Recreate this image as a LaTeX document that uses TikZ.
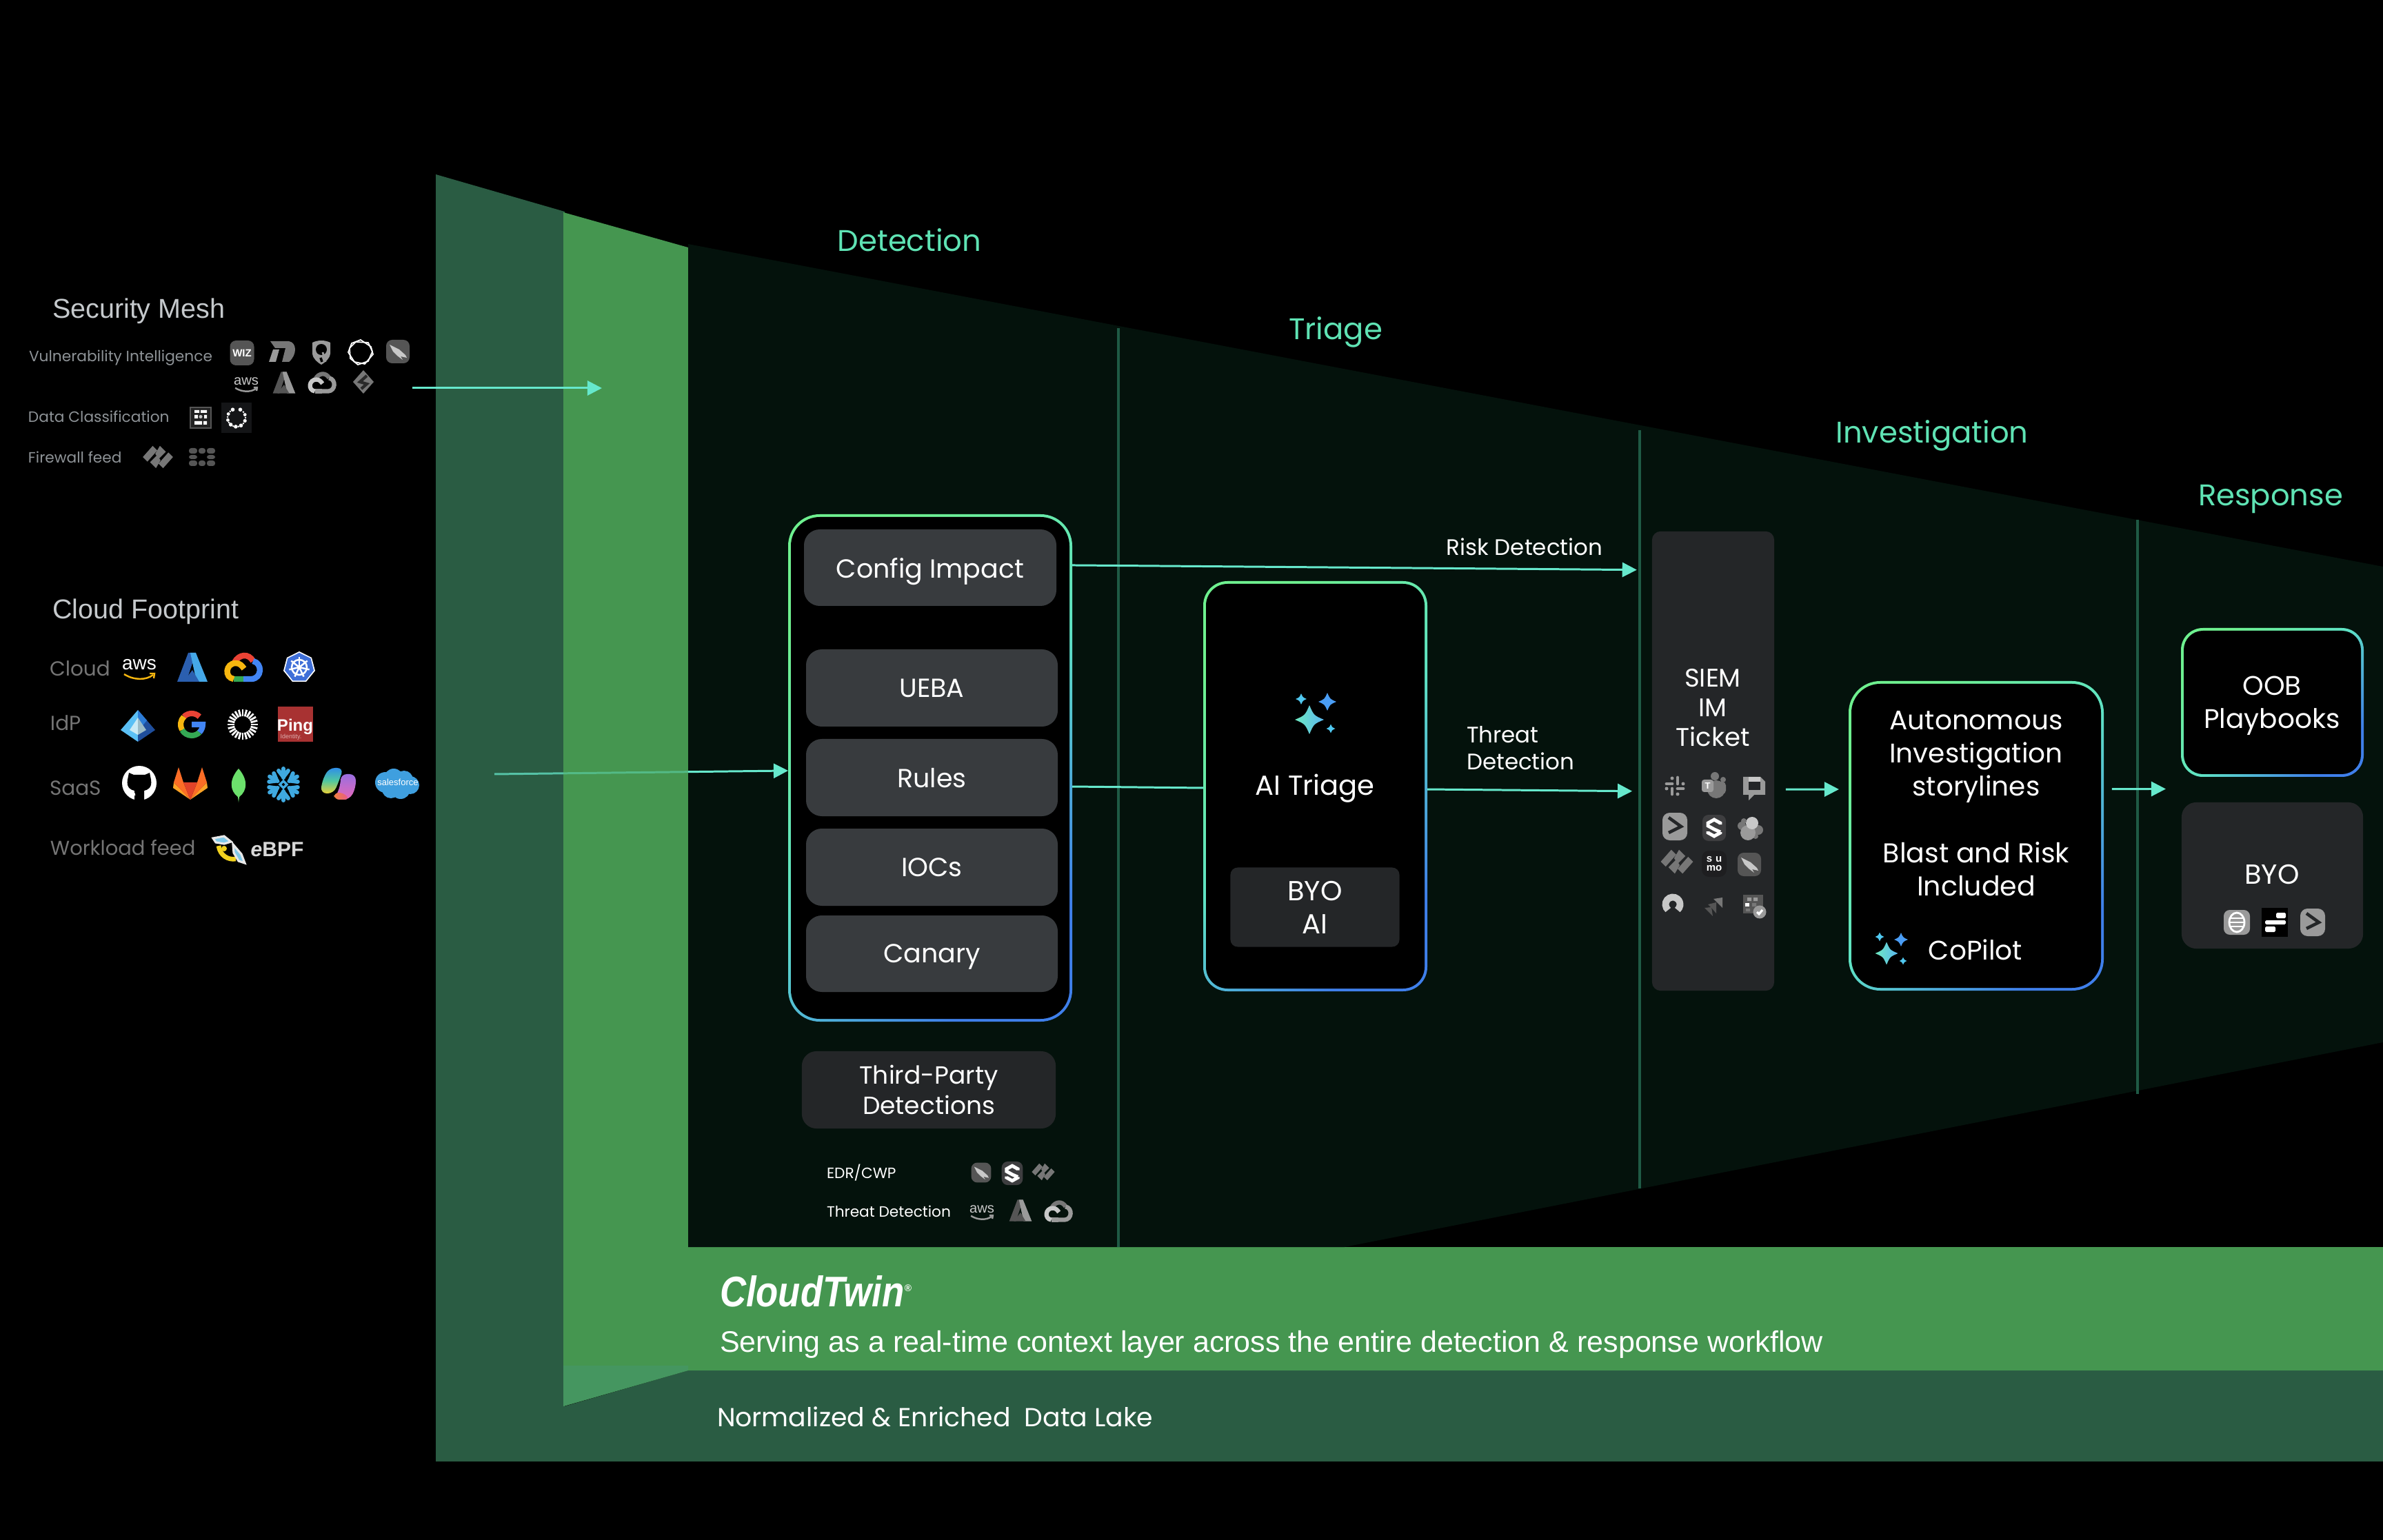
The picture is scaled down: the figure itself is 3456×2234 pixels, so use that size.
\documentclass[tikz,border=0pt]{standalone}
\usepackage{fontspec}
\setmainfont{Poppins}
\newfontfamily\lib{Liberation Sans}
\usetikzlibrary{arrows.meta,calc}
\definecolor{pdark}{HTML}{2A5C43}
\definecolor{plight}{HTML}{459650}
\definecolor{plight2}{HTML}{459660}
\definecolor{panel}{HTML}{04120C}
\definecolor{divc}{HTML}{1F5A45}
\definecolor{teal}{HTML}{66E8CC}
\definecolor{head}{HTML}{5FE3B4}
\definecolor{gA}{HTML}{6EF08F}
\definecolor{gB}{HTML}{5FE3C4}
\definecolor{gC}{HTML}{3F7FEA}
\definecolor{boxA}{HTML}{383B3E}
\definecolor{boxB}{HTML}{242628}
\definecolor{lblA}{HTML}{C5C9CC}
\definecolor{lblB}{HTML}{8E9397}
\definecolor{lblC}{HTML}{757575}
\definecolor{gr1}{HTML}{555555}
\definecolor{gr2}{HTML}{777777}
\definecolor{gr3}{HTML}{9A9A9A}
\definecolor{gr4}{HTML}{C8C8C8}
\definecolor{HTML3F6FD8}{HTML}{3F6FD8}
\definecolor{HTML5BC0F5}{HTML}{5BC0F5}\definecolor{HTML1F4E9C}{HTML}{1F4E9C}\definecolor{HTML2C7BD5}{HTML}{2C7BD5}\definecolor{HTMLCBEAF5}{HTML}{CBEAF5}\definecolor{HTML9BBCC8}{HTML}{9BBCC8}
\definecolor{HTMLEA4335}{HTML}{EA4335}\definecolor{HTMLF6B60F}{HTML}{F6B60F}\definecolor{HTML34A853}{HTML}{34A853}\definecolor{HTML4285F4}{HTML}{4285F4}
\definecolor{pingred}{HTML}{A83232}
\definecolor{glA}{HTML}{E24329}\definecolor{glB}{HTML}{FC6D26}\definecolor{glC}{HTML}{FCA326}
\definecolor{leaf}{HTML}{6CE06C}\definecolor{sflake}{HTML}{3FA9E0}\definecolor{sforce}{HTML}{3F9FDF}
\definecolor{HTML2F8FE8}{HTML}{2F8FE8}\definecolor{HTMLE8D038}{HTML}{E8D038}\definecolor{HTML50C8A0}{HTML}{50C8A0}\definecolor{HTML9A6FE0}{HTML}{9A6FE0}\definecolor{HTMLE868B8}{HTML}{E868B8}\definecolor{HTMLF08040}{HTML}{F08040}\definecolor{HTMLE85890}{HTML}{E85890}
\definecolor{HTMLF2D21E}{HTML}{F2D21E}\definecolor{HTMLE8E8E8}{HTML}{E8E8E8}\definecolor{HTML7FC8E8}{HTML}{7FC8E8}\definecolor{HTMLD8D8D8}{HTML}{D8D8D8}
\definecolor{HTML2A2A2A}{HTML}{2A2A2A}\definecolor{HTML222222}{HTML}{222222}\definecolor{HTML141517}{HTML}{141517}
\definecolor{HTML3E3E40}{HTML}{3E3E40}\definecolor{HTML242628}{HTML}{242628}\definecolor{HTML1E1E20}{HTML}{1E1E20}
\definecolor{HTML62DFC8}{HTML}{62DFC8}\definecolor{HTML4A9DF5}{HTML}{4A9DF5}\definecolor{HTML50C8F0}{HTML}{50C8F0}\definecolor{HTML5AB8F0}{HTML}{5AB8F0}\definecolor{HTML6EE8C0}{HTML}{6EE8C0}
\definecolor{HTML2B5FAF}{HTML}{2B5FAF}\definecolor{HTML45A8E8}{HTML}{45A8E8}
\pgfdeclarehorizontalshading{gborder}{100bp}{color(0bp)=(gA); color(25bp)=(gA); color(50bp)=(gB); color(75bp)=(gC); color(100bp)=(gC)}
\newcommand\fpx[2]{\fontsize{\dimexpr#1\dimexpr0.28453pt\relax\relax}{\dimexpr#2\dimexpr0.28453pt\relax\relax}\selectfont}
\newcommand\nd[1]{\raisebox{0pt}[\height][0pt]{#1}}
\tikzset{
  x=0.01cm,y=-0.01cm,
  boxnode/.style={inner sep=0pt,outer sep=0pt,text=white,align=center},
  txt/.style={inner sep=0pt,outer sep=0pt,align=center,text=white},
  ltxt/.style={inner sep=0pt,outer sep=0pt,anchor=west,align=left},
  flow/.style={draw=teal,line width=.85pt,-{Triangle[length=6pt,width=6pt,fill=teal]}},
  flowplain/.style={draw=teal,line width=.85pt},
  divider/.style={draw=divc,line width=0.9pt},
  ic/.style={inner sep=0pt,outer sep=0pt,transform shape,text=white}
}
\newcommand\bx[8]{\node[boxnode,fill=#6,rounded corners=#7,minimum width={(#4-#2)*0.01cm},minimum height={(#5-#3)*0.01cm},font=\fpx{38}{44}] (#1) at ({(#2+#4)/2},{(#3+#5)/2}) {\nd{#8}};}
\newcommand\gfr[6]{%
  \node[inner sep=0pt,outer sep=0pt,shade,shading=gborder,shading angle=-45,rounded corners=#6,minimum width={(#4-#2)*0.01cm},minimum height={(#5-#3)*0.01cm}] (#1) at ({(#2+#4)/2},{(#3+#5)/2}) {};
  \node[inner sep=0pt,outer sep=0pt,fill=black,rounded corners=#6-1.1pt,minimum width={(#4-#2-8)*0.01cm},minimum height={(#5-#3-8)*0.01cm}] (#1in) at (#1.center) {};}
\newcommand\spark[4]{\path[#4] ({#1},{#2-#3}) .. controls ({#1+.3*#3},{#2-.3*#3}) .. ({#1+#3},{#2}) .. controls ({#1+.3*#3},{#2+.3*#3}) .. ({#1},{#2+#3}) .. controls ({#1-.3*#3},{#2+.3*#3}) .. ({#1-#3},{#2}) .. controls ({#1-.3*#3},{#2-.3*#3}) .. cycle;}
\newenvironment{icn}[3]{\begin{scope}[shift={(#1,#2)},scale=#3]}{\end{scope}}
\newcommand\iAws[5]{\begin{icn}{#1}{#2}{#3}\node[ic,text=#4,font=\lib\fpx{28}{28}] at (0,-6) {aws};\draw[#5,line width=0.7pt] (-22,8) .. controls (-8,17) and (10,17) .. (20,9);\draw[#5,line width=0.7pt] (15,7) -- (22,7) -- (21,14);\end{icn}}
\newcommand\iAzure[5]{\begin{icn}{#1}{#2}{#3}\fill[#4] (-22,21) -- (-6,-21) -- (5,-21) -- (-9,21) -- cycle;\fill[#5] (5,-21) -- (22,21) -- (6,21) -- (-3,-21) -- cycle;\fill[#4] (0,4) -- (10,21) -- (-13,21) -- cycle;\end{icn}}
\newcommand\iGcp[7]{\begin{icn}{#1}{#2}{#3}
 \draw[#4,line width={2.4pt*#3}] (-13,-7) .. controls (-6,-20) and (8,-20) .. (14,-9);
 \draw[#5,line width={2.4pt*#3}] (14,-9) .. controls (28,-6) and (27,16) .. (12,17) -- (0,17);
 \draw[#6,line width={2.4pt*#3}] (0,17) -- (-14,17);
 \draw[#7,line width={2.4pt*#3}] (-14,17) .. controls (-28,15) and (-26,-6) .. (-11,-6) .. controls (-5,-6) and (-2,-2) .. (1,2);
 \end{icn}}
\newcommand\iKube[2]{\begin{icn}{#1}{#2}{1}
 \fill[white] (0,-23)--(18,-14)--(23,5)--(10,21)--(-10,21)--(-23,5)--(-18,-14)--cycle;
 \fill[HTML3F6FD8] (0,-21)--(16.5,-13)--(21,4.5)--(9,19.5)--(-9,19.5)--(-21,4.5)--(-16.5,-13)--cycle;
 \draw[white,line width=0.7pt] (0,0) circle (11);
 \foreach \a in {-90,-38.6,12.9,64.3,115.7,167.1,218.6}{\draw[white,line width=0.7pt] (0,0) -- (\a:15);}
 \fill[white] (0,0) circle (3);
 \end{icn}}
\newcommand\iEntra[2]{\begin{icn}{#1}{#2}{1}
 \fill[HTML5BC0F5] (0,-23)--(-25,6)--(0,23)--cycle;
 \fill[HTML1F4E9C] (0,-23)--(25,6)--(0,23)--cycle;
 \fill[HTML2C7BD5] (0,-23)--(13,-8)--(0,8)--cycle;
 \fill[HTMLCBEAF5] (0,-12)--(-12,6)--(0,13)--cycle;
 \fill[HTML9BBCC8] (0,-12)--(12,6)--(0,13)--cycle;
 \end{icn}}
\newcommand\iGoogle[2]{\begin{icn}{#1}{#2}{1}
 \draw[HTMLEA4335,line width=2.3pt] (-45:16) arc[start angle=-45,end angle=-135,radius=16];
 \draw[HTMLF6B60F,line width=2.3pt] (-135:16) arc[start angle=-135,end angle=-210,radius=16];
 \draw[HTML34A853,line width=2.3pt] (150:16) arc[start angle=150,end angle=45,radius=16];
 \draw[HTML4285F4,line width=2.3pt] (45:16) arc[start angle=45,end angle=0,radius=16] -- (0,0);
 \end{icn}}
\newcommand\iSun[2]{\begin{icn}{#1}{#2}{1}\foreach \a in {0,15,...,345}{\draw[white,line width=.8pt] (\a:12) -- (\a:22);}\end{icn}}
\newcommand\iPing[2]{\begin{icn}{#1}{#2}{1}\fill[pingred] (-25.5,-25.5) rectangle (25.5,25.5);\node[ic,font=\lib\bfseries\fpx{24}{24}] at (0,3) {Ping};\node[ic,text=white!60!pingred,font=\lib\fpx{9}{9}] at (-6,18) {Identity.};\end{icn}}
\newcommand\iGithub[2]{\begin{icn}{#1}{#2}{1}\fill[white] (0,-1) circle (25);\fill[black] (-15,-16)--(-8,-13)--(8,-13)--(15,-16)--(17,-6).. controls (19,6) and (12,9) .. (7,10) -- (7,25) -- (-7,25) -- (-7,16) -- (-7,10) .. controls (-12,9) and (-19,6) .. (-17,-6) -- cycle;\draw[white,line width=1.0pt] (-17,11) .. controls (-13,17) and (-10,16) .. (-6,15);\end{icn}}
\newcommand\iGitlab[2]{\begin{icn}{#1}{#2}{1}\fill[glC] (-24,-2)--(-25,6)--(0,23)--cycle;\fill[glC] (24,-2)--(25,6)--(0,23)--cycle;\fill[glB] (-24,-2)--(-10,-2)--(0,23)--cycle;\fill[glB] (24,-2)--(10,-2)--(0,23)--cycle;\fill[glA] (-10,-2)--(10,-2)--(0,23)--cycle;\fill[glB] (-24,-2)--(-17,-24)--(-10,-2)--cycle;\fill[glB] (24,-2)--(17,-24)--(10,-2)--cycle;\end{icn}}
\newcommand\iLeaf[2]{\begin{icn}{#1}{#2}{1}\fill[leaf] (0,-24) .. controls (14,-8) and (13,8) .. (1,17) -- (0,25) -- (-1,17) .. controls (-13,8) and (-14,-8) .. (0,-24) -- cycle;\end{icn}}
\newcommand\iSnow[2]{\begin{icn}{#1}{#2}{1}\foreach \a in {-90,-30,30,90,150,210}{\draw[sflake,line width=1.7pt,line cap=round] (\a:10) -- (\a:23);\draw[sflake,line width=1.7pt,line cap=round] ($(\a:16)+(\a+60:8)$) -- (\a:11) -- ($(\a:16)+(\a-60:8)$);}\draw[sflake,line width=1pt] (0,-5)--(5,0)--(0,5)--(-5,0)--cycle;\end{icn}}
\newcommand\iCopilot[2]{\begin{icn}{#1}{#2}{1}
 \shade[top color=HTML9A6FE0,bottom color=HTMLE868B8,rounded corners=2.5pt] (3,-14)--(25,-14)--(25,6)--(16,23)--(-6,23)--(3,2)--cycle;
 \shade[left color=HTMLF08040,right color=HTMLE85890,rounded corners=2pt] (-7,13)--(8,13)--(16,23)--(-6,23)--cycle;
 \shade[top color=HTML2F8FE8,bottom color=HTMLE8D038,middle color=HTML50C8A0,rounded corners=2.5pt] (-26,14)--(-24,-4)--(-14,-23)--(7,-23)--(1,-5)--(-7,14)--cycle;
 \end{icn}}
\newcommand\iSforce[2]{\begin{icn}{#1}{#2}{1}\fill[sforce] (-17,-2) circle (15) (-5,-8) circle (14) (10,-6) circle (13) (19,2) circle (13) (5,8) circle (14) (-9,8) circle (13);\node[ic,font=\lib\fpx{13}{13}] at (1,-2) {salesforce};\end{icn}}
\newcommand\iBee[2]{\begin{icn}{#1}{#2}{1}
 \draw[HTMLF2D21E,line width=1.9pt] (-16,-6) .. controls (-14,8) and (-2,15) .. (9,13);
 \fill[HTMLF2D21E] (-8,-2) circle (4);
 \draw[HTMLE8E8E8,line width=.9pt,fill=HTML7FC8E8] (-24,-17)--(-8,-20)--(2,-12)--(-8,-9)--(-20,-11)--cycle;
 \draw[HTMLE8E8E8,line width=.9pt,fill=HTML7FC8E8] (5,-8)--(17,6)--(22,19)--(13,16)--(6,4)--cycle;
 \node[ic,text=HTMLD8D8D8,font=\lib\bfseries\fpx{30}{30}] at (69,-1) {\textit{e}BPF};
 \end{icn}}
\newcommand\iCS[3]{\begin{icn}{#1}{#2}{#3}\fill[gr1,rounded corners=2.5pt] (-17,-17) rectangle (17,17);\fill[gr4] (-12,-10)--(2,-3)--(11,5)--(13,9)--(4,7)--(7,12)--(-1,6)--(-7,0)--cycle;\end{icn}}
\newcommand\iWiz[2]{\begin{icn}{#1}{#2}{1}\fill[gr1,rounded corners=2.5pt] (-17.5,-18) rectangle (17.5,18);\node[ic,font=\lib\bfseries\fpx{15}{15}] at (0,0) {WIZ};\end{icn}}
\newcommand\iSeven[2]{\begin{icn}{#1}{#2}{1}\fill[gr2] (-17,-15)--(10,-15) .. controls (22,-13) and (22,5) .. (10,15) -- (0,15) -- (5,-5) -- (-10,-5) -- cycle;\fill[gr3] (-19,15)--(-9,15)--(-4,-3)--(-13,-3)--cycle;\end{icn}}
\newcommand\iQ[2]{\begin{icn}{#1}{#2}{1}\fill[gr3] (-13,-14) .. controls (-5,-18) and (5,-18) .. (13,-14) -- (13,2) .. controls (12,10) and (5,15) .. (0,18) .. controls (-5,15) and (-12,10) .. (-13,2) -- cycle;\fill[black] (0,-4) circle (8);\draw[gr3,line width=.8pt] (2,0) -- (6,14);\draw[black,line width=1pt] (-1,8)--(1,14);\end{icn}}
\newcommand\iHex[2]{\begin{icn}{#1}{#2}{1}\draw[white,line width=.5pt] (0,-18)--(15,-8)--(18,3)--(6,17)--(-9,14)--(-18,0)--(-13,-13)--cycle;\draw[white,line width=.5pt] (-7,-15)--(11,-14)--(17,-1)--(11,13)--(-4,18)--(-15,9)--(-16,-6)--cycle;\end{icn}}
\newcommand\iDiam[2]{\begin{icn}{#1}{#2}{1}\fill[gr2] (0,-17)--(15,0)--(0,17)--(-15,0)--cycle;\draw[HTML2A2A2A,line width=1.2pt] (5,-9)--(-5,0)--(5,3)--(-3,10);\end{icn}}
\newcommand\iGrid[2]{\begin{icn}{#1}{#2}{1}\fill[HTML222222] (-15,-15) rectangle (15,15);\draw[gr1,line width=.4pt] (-15,-15) rectangle (15,15);\fill[white] (-9,-11) rectangle (-2,-7) (0,-11) rectangle (9,-7) (-9,-4) rectangle (-4,1) (5,-4) rectangle (9,1) (-9,5) rectangle (2,10) (4,5) rectangle (9,10);\fill[gr4] (0,-1.5) circle (2.5);\end{icn}}
\newcommand\iRing[2]{\begin{icn}{#1}{#2}{1}\fill[HTML141517] (-22,-22) rectangle (22,22);\foreach \a/\r in {-115/2.8,-65/2.8,-20/2.4,20/2.6,60/2.8,95/2.8,130/2.8,165/2.4,205/2.4}{\fill[white] (\a:13) circle (\r);}\foreach \a in {-40,0,40,78,112,148,185,225}{\fill[white] (\a:13) circle (1.4);}\end{icn}}
\newcommand\iPalo[3]{\begin{icn}{#1}{#2}{#3}\fill[gr2] (-23,0)--(-8,-17)--(-1,-10)--(-16,7)--cycle;\fill[gr2] (3,-17)--(12,-8)--(1,3)--(-4,-5)--cycle;\fill[gr2] (-3,17)--(-12,8)--(-1,-3)--(4,5)--cycle;\fill[gr2] (23,0)--(8,17)--(1,10)--(16,-7)--cycle;\end{icn}}
\newcommand\iForti[2]{\begin{icn}{#1}{#2}{1}\fill[gr1,rounded corners=1pt] (-19,-13) rectangle (-7,-5) (-5,-13) rectangle (5,-5) (7,-13) rectangle (19,-5) (-19,-3) rectangle (-7,3) (7,-3) rectangle (19,3) (-19,5) rectangle (-7,13) (-5,5) rectangle (5,13) (7,5) rectangle (19,13);\end{icn}}
\newcommand\iSent[3]{\begin{icn}{#1}{#2}{#3}\fill[HTML3E3E40,rounded corners=2.5pt] (-17,-19) rectangle (17,19);\draw[white,line width=1.4pt] (9,-5)--(9,-7)--(0,-12)--(-9,-7)--(-9,-3)--(0,2)--(9,6);\draw[white,line width=1.4pt] (-9,5)--(-9,7)--(0,12)--(9,7)--(9,6);\end{icn}}
\newcommand\iSlack[2]{\begin{icn}{#1}{#2}{1}\draw[gr3,line width=1.4pt,line cap=round] (-4,-3)--(-12,-3) (4,-12)--(4,-3) (4,4)--(12,4) (-4,12)--(-4,4);\fill[gr3] (-4,-11) circle (2.5) (12,-3) circle (2.5) (4,12) circle (2.5) (-12,4) circle (2.5);\end{icn}}
\newcommand\iTeams[2]{\begin{icn}{#1}{#2}{1}\fill[gr2] (1,-14) circle (6) (13,-9) circle (4);\fill[gr2,rounded corners=1.5pt] (-3,-6) rectangle (17,12);\fill[gr2] (3,5) circle (13);\fill[gr3,rounded corners=1pt] (-18,-9) rectangle (-1,9);\node[ic,font=\lib\bfseries\fpx{13}{13}] at (-9.5,0) {T};\end{icn}}
\newcommand\iChat[2]{\begin{icn}{#1}{#2}{1}\fill[gr3] (-16,-15)--(9,-15)--(16,-8)--(16,11)--(0,11)--(-8,19)--(-8,11)--(-16,11)--cycle;\fill[gr4] (-8,-15)--(9,-15)--(9,-8)--(-8,-8)--cycle;\fill[HTML242628] (-8,-8) rectangle (9,4);\end{icn}}
\newcommand\iSplunk[3]{\begin{icn}{#1}{#2}{#3}\fill[gr3,rounded corners=3pt] (-18,-20) rectangle (18,20);\draw[HTML242628,line width=1.3pt] (-9,-13)--(9,0)--(-9,9);\end{icn}}
\newcommand\iElastic[2]{\begin{icn}{#1}{#2}{1}\fill[gr2] (-12,-4) circle (6) (12,2) circle (7) (8,11) circle (4);\fill[gr3] (-3,6) circle (11);\fill[gr4] (3,-8) circle (9);\fill[gr2] (-9,-11) circle (4);\end{icn}}
\newcommand\iSumo[2]{\begin{icn}{#1}{#2}{1}\fill[HTML1E1E20,rounded corners=3pt] (-18,-19) rectangle (18,19);\node[ic,align=center,font=\lib\bfseries\fpx{15}{13.5}] at (0,0) {s\,\,u\\mo};\end{icn}}
\newcommand\iArc[2]{\begin{icn}{#1}{#2}{1}\draw[gr4,line width=2.8pt] (130:10.5) arc[start angle=130,end angle=410,radius=10.5];\end{icn}}
\newcommand\iJira[2]{\begin{icn}{#1}{#2}{1}\fill[gr2] (12,-13)--(-1,-11)--(5,-5)--(12,2)--cycle;\fill[gr1] (3,-6)--(-9,-3)--(-3,3)--(3,10)--cycle;\fill[gr1] (-4,1)--(-14,2)--(-2,14)--cycle;\end{icn}}
\newcommand\iCal[2]{\begin{icn}{#1}{#2}{1}\fill[gr1] (-15,-17) rectangle (14,10);\fill[gr3] (-9,-13) rectangle (-3,-8) (0,-13) rectangle (6,-8);\fill[white] (-12,-5) rectangle (-6,0);\fill[gr2] (-2,-5) rectangle (4,0) (-11,3) rectangle (-5,7);\fill[gr3] (9,8) circle (9.5);\draw[white,line width=.9pt] (5,8)--(8,11)--(13,5);\end{icn}}
\newcommand\iDB[2]{\begin{icn}{#1}{#2}{1}\fill[gr3,rounded corners=2.5pt] (-19,-18) rectangle (19,18);\draw[white,line width=.8pt] (0,0) ellipse (11 and 14);\draw[white,line width=.7pt] (-11,-6)--(11,-6) (-12,0)--(12,0) (-11,6)--(11,6);\end{icn}}
\newcommand\iBars[2]{\begin{icn}{#1}{#2}{1}\fill[black] (-19,-21) rectangle (19,21);\fill[white,rounded corners=.5pt] (2,-14) rectangle (16,-6) (-14,-3) rectangle (16,3) (-14,6) rectangle (1,14);\end{icn}}
\begin{document}
\begin{tikzpicture}
\useasboundingbox (0,0) rectangle (3456,2234);
\fill[black] (0,0) rectangle (3456,2234);
% funnel
\fill[pdark] (632,253)--(819,307)--(819,2040)--(998,1988)--(3456,1988)--(3456,2120)--(632,2120)--cycle;
\fill[plight] (817,308)--(998,359)--(998,1809)--(3456,1809)--(3456,1988)--(998,1988)--(817,2040)--cycle;
\fill[plight2] (817,1981)--(998,1981)--(998,1988)--(817,2040)--cycle;
\fill[panel] (998,354)--(3456,822)--(3456,1512)--(1950,1809)--(998,1809)--cycle;
\coordinate (d1a) at (1622,476);\coordinate (d1b) at (1622,1809);
\coordinate (d2a) at (2378,624);\coordinate (d2b) at (2378,1724);
\coordinate (d3a) at (3100,754);\coordinate (d3b) at (3100,1587);
\draw[divider] (d1a)--(d1b);\draw[divider] (d2a)--(d2b);\draw[divider] (d3a)--(d3b);
% stage titles
\node[txt,text=head,font=\fpx{43.3}{46}] (tDet) at (1319,348) {\nd{Detection}};
\node[txt,text=head,font=\fpx{43.3}{46}] (tTri) at (1937,476) {\nd{Triage}};
\node[txt,text=head,font=\fpx{43.3}{46}] (tInv) at (2802,626) {\nd{Investigation}};
\node[txt,text=head,font=\fpx{43.3}{46}] (tRes) at (3293,718) {\nd{Response}};
% left column
\node[ltxt,text=lblA,font=\lib\fpx{39.5}{39}] (secm) at (76,447) {\nd{Security Mesh}};
\node[ltxt,text=lblB,font=\fpx{21.7}{23}] (vul) at (42,516) {\nd{Vulnerability Intelligence}};
\node[ltxt,text=lblB,font=\fpx{21.7}{23}] (dcl) at (41,604) {Data Classification};
\node[ltxt,text=lblB,font=\fpx{21.7}{23}] (fwf) at (41,663) {Firewall feed};
\iWiz{351}{512}\iSeven{409}{510}\iQ{466}{511}\iHex{523}{511}\iCS{577}{510}{1}
\iAws{357}{557}{.72}{gr4}{gr3}\iAzure{412}{555}{.74}{gr1}{gr3}\iGcp{467}{555}{.74}{gr2}{gr3}{gr3}{gr4}\iDiam{527}{554}
\iGrid{291}{606}\iRing{343}{606}\iPalo{229}{663}{.95}\iForti{293}{663}
\node[ltxt,text=lblA,font=\lib\fpx{39.5}{39}] (clf) at (76,883) {\nd{Cloud Footprint}};
\node[ltxt,text=lblC,font=\fpx{29.5}{30}] (lCl) at (72,970) {Cloud};
\node[ltxt,text=lblC,font=\fpx{29.5}{30}] (lId) at (73,1049) {IdP};
\node[ltxt,text=lblC,font=\fpx{29.5}{30}] (lSa) at (72,1143) {SaaS};
\node[ltxt,text=lblC,font=\fpx{29}{30}] (lWo) at (73,1230) {Workload feed};
\iAws{202}{970}{1}{white}{HTMLF6B60F}\iAzure{279}{968}{1}{HTML2B5FAF}{HTML45A8E8}
\iGcp{353}{968}{1}{HTMLEA4335}{HTML4285F4}{HTML34A853}{HTMLF6B60F}\iKube{434}{968}
\iEntra{200}{1053}\iGoogle{278}{1051}\iSun{352}{1051}\iPing{428}{1051}
\iGithub{202}{1137}\iGitlab{276}{1137}\iLeaf{346}{1139}\iSnow{411}{1138}\iCopilot{491}{1137}\iSforce{576}{1137}
\iBee{333}{1233}
% detection
\gfr{det}{1143}{746}{1555}{1482}{13pt}
\bx{cfg}{1166}{768}{1532}{879}{boxA}{6.5pt}{Config Impact}
\bx{ueba}{1169}{942}{1534}{1054}{boxA}{6.5pt}{UEBA}
\bx{rules}{1169}{1072}{1534}{1184}{boxA}{6.5pt}{Rules}
\bx{iocs}{1169}{1202}{1534}{1314}{boxA}{6.5pt}{IOCs}
\bx{canary}{1169}{1328}{1534}{1439}{boxA}{6.5pt}{Canary}
\node[boxnode,fill=boxB,rounded corners=6pt,minimum width=3.68cm,minimum height=1.12cm,font=\fpx{36}{44}] (third) at (1347,1581) {Third-Party\\Detections};
\node[ltxt,text=white,font=\fpx{21.7}{22}] (edr) at (1199,1701) {EDR/CWP};
\node[ltxt,text=white,font=\fpx{21.7}{22}] (thd) at (1199,1757) {Threat Detection};
\iCS{1423}{1701}{.85}\iSent{1468}{1702}{.9}\iPalo{1513}{1700}{.72}
\iAws{1424}{1758}{.72}{gr4}{gr3}\iAzure{1480}{1756}{.74}{gr1}{gr3}\iGcp{1535}{1757}{.74}{gr2}{gr3}{gr3}{gr4}
% triage
\gfr{tri}{1745}{843}{2070}{1438}{10pt}
\spark{1899}{1044}{21}{left color=HTML6EE8C0,right color=HTML5AB8F0}\spark{1925}{1018}{13}{fill=HTML4A9DF5}\spark{1887}{1014}{8}{fill=HTML50C8F0}\spark{1930}{1057}{6.5}{fill=HTML50C8F0}
\node[txt,font=\fpx{40}{40}] (triT) at (1907,1138) {\nd{AI Triage}};
\node[boxnode,fill=boxB,rounded corners=3pt,minimum width=2.45cm,minimum height=1.15cm,font=\fpx{40}{48}] (byoai) at (1907,1316) {BYO\\AI};
% SIEM
\node[boxnode,fill=boxB,rounded corners=3.5pt,minimum width=1.77cm,minimum height=6.66cm] (siem) at (2484.5,1104) {};
\node[txt,font=\fpx{37}{43}] (siemT) at (2484,1027) {SIEM\\IM\\Ticket};
\iSlack{2429}{1140}\iTeams{2486}{1140}\iChat{2544}{1142}
\iSplunk{2429}{1199}{1}\iSent{2486}{1201}{1}\iElastic{2538}{1202}
\iPalo{2432}{1250}{1.02}\iSumo{2486}{1253}\iCS{2537}{1254}{1}
\iArc{2426}{1312}\iJira{2486}{1315}\iCal{2543}{1315}
% investigation
\gfr{aut}{2681}{988}{3051}{1437}{13pt}
\node[txt,font=\fpx{39}{48}] (autT) at (2866,1098) {Autonomous\\Investigation\\storylines};
\node[txt,font=\fpx{39.5}{48}] (blast) at (2866,1261) {Blast and Risk\\Included};
\node[txt,font=\fpx{39}{42}] (cop) at (2865,1378) {CoPilot};
\spark{2736}{1383}{16.5}{left color=HTML6EE8C0,right color=HTML5AB8F0}\spark{2757}{1363}{10}{fill=HTML4A9DF5}\spark{2726}{1359}{6.5}{fill=HTML50C8F0}\spark{2760}{1394}{5.5}{fill=HTML50C8F0}
% response
\gfr{oob}{3163}{911}{3428}{1127}{9pt}
\node[txt,font=\fpx{39}{48}] (oobT) at (3295,1024) {OOB\\Playbooks};
\node[boxnode,fill=boxB,rounded corners=6pt,minimum width=2.63cm,minimum height=2.12cm] (byo) at (3295.5,1270) {};
\node[txt,font=\fpx{40}{42}] (byoT) at (3295,1269) {BYO};
\iDB{3244}{1338}\iBars{3299}{1338}\iSplunk{3354}{1338}{1}
% band texts
\node[ltxt,text=white,font=\lib\bfseries\itshape\fpx{62}{62}] (ctw) at (1044,1873) {\scalebox{.85}[1]{CloudTwin}\textsuperscript{\fpx{14}{14}\textregistered}};
\node[ltxt,text=white,font=\lib\fpx{43}{44}] (serv) at (1044,1946) {\nd{Serving as a real-time context layer across the entire detection \& response workflow}};
\node[ltxt,text=white,font=\fpx{37.8}{40}] (norm) at (1040,2055) {Normalized \& Enriched\ \ Data Lake};
% connectors
\coordinate (m1) at (598,563);\coordinate (m2) at (873,563);
\draw[flow] (m1)--(m2);
\coordinate (c1) at (717,1123);
\draw[flow] (c1)--($(det.north west)!.5054!(det.south west)$);
\fill[pdark,opacity=.27] (632,1105) rectangle (817,1135);
\fill[plight,opacity=.56] (817,1105) rectangle (998,1135);
\draw[flow,shorten >=6.3pt] ($(det.north east)!.1005!(det.south east)$)--($(siem.north west)!.0841!(siem.south west)$);
\node[txt,font=\fpx{32.5}{33}] (riskL) at (2211,793) {Risk Detection};
\draw[flowplain] ($(det.north east)!.5367!(det.south east)$)--($(tri.north west)!.5042!(tri.south west)$);
\draw[flow,shorten >=8.2pt] ($(tri.north east)!.5076!(tri.south east)$)--($(siem.north west)!.566!(siem.south west)$);
\node[ltxt,text=white,font=\fpx{32.5}{39},align=left] (thrL) at (2127,1085) {Threat\\Detection};
\draw[flow,shorten <=4.8pt,shorten >=4pt] ($(siem.north east)!.5616!(siem.south east)$)--($(aut.north west)!.3497!(aut.south west)$);
\coordinate (respIn) at (3141,1144.5);
\draw[flow,shorten <=3.4pt] ($(aut.north east)!.3486!(aut.south east)$)--(respIn);
\end{tikzpicture}
\end{document}
